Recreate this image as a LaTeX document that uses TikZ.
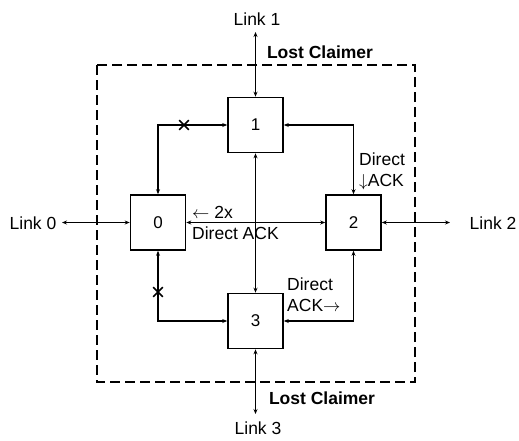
\documentclass[tikz,border=0pt]{standalone}
\usepackage{fontspec}
\setmainfont{Liberation Sans}
\usetikzlibrary{arrows.meta,shapes.misc}

\begin{document}
\begin{tikzpicture}[x=1pt,y=-1pt,>={Stealth[length=5pt,width=4pt]},
  blk/.style={draw,line width=1.6pt,minimum width=55pt,minimum height=55pt,inner sep=0pt,font=\fontsize{17}{17}\selectfont},
  lnk/.style={<->,line width=1.3pt},
  lbl/.style={inner sep=0pt,font=\fontsize{17.5}{21}\selectfont},
  hdr/.style={inner sep=0pt,font=\fontsize{17.5}{17.5}\selectfont\bfseries},
  lost/.style={cross out,draw,line width=1.6pt,minimum size=8pt,inner sep=0pt}]
				\useasboundingbox (0,0) rectangle (519,440);
				\coordinate (P0) at (158,222.5);
				\coordinate (P1) at (255.5,125);
				\coordinate (P2) at (353.5,222.5);
				\coordinate (P3) at (255.5,321);
				\coordinate (E0) at (62,222.5);
				\coordinate (E1) at (255.5,32);
				\coordinate (E2) at (450,222.5);
				\coordinate (E3) at (255.5,414);
				\draw[line width=1.5pt,dash pattern=on 10pt off 5pt] (97,65) rectangle (415,382);
				\node[blk] (n0) at (P0) {0};
				\node[blk] (n1) at (P1) {1};
				\node[blk] (n2) at (P2) {2};
				\node[blk] (n3) at (P3) {3};
				\draw[lnk] (n0.north) |- (n1.west);
				\draw[lnk] (n1.east) -| (n2.north);
				\draw[lnk] (n0.east) -- (n2.west);
				\draw[lnk] (n1.south) -- (n3.north);
				\draw[lnk] (n0.south) |- (n3.west);
				\draw[lnk] (n3.east) -| (n2.south);
				\draw[lnk] (n0.west) -- (E0);
				\draw[lnk] (n1.north) -- (E1);
				\draw[lnk] (n2.east) -- (E2);
				\draw[lnk] (n3.south) -- (E3);
				\node[lost] (x01) at (184,125) {};
				\node[lost] (x03) at (158,292) {};
				\node[lbl] (l0) at (33,223) {Link 0};
				\node[lbl] (l1) at (257,19) {Link 1};
				\node[lbl] (l2) at (493,223) {Link 2};
				\node[lbl] (l3) at (258,428) {Link 3};
				\node[hdr] (c1) at (320,52) {Lost Claimer};
				\node[hdr] (c3) at (322,398) {Lost Claimer};
				\node[lbl,anchor=west,align=left] (a12) at (359,171) {Direct\\$\downarrow$ACK};
				\node[lbl,anchor=west,align=left] (a02) at (192,223) {$\leftarrow$ 2x\\Direct ACK};
				\node[lbl,anchor=west,align=left] (a32) at (287,294.5) {Direct\\ACK$\rightarrow$};
			\end{tikzpicture}
\end{document}
